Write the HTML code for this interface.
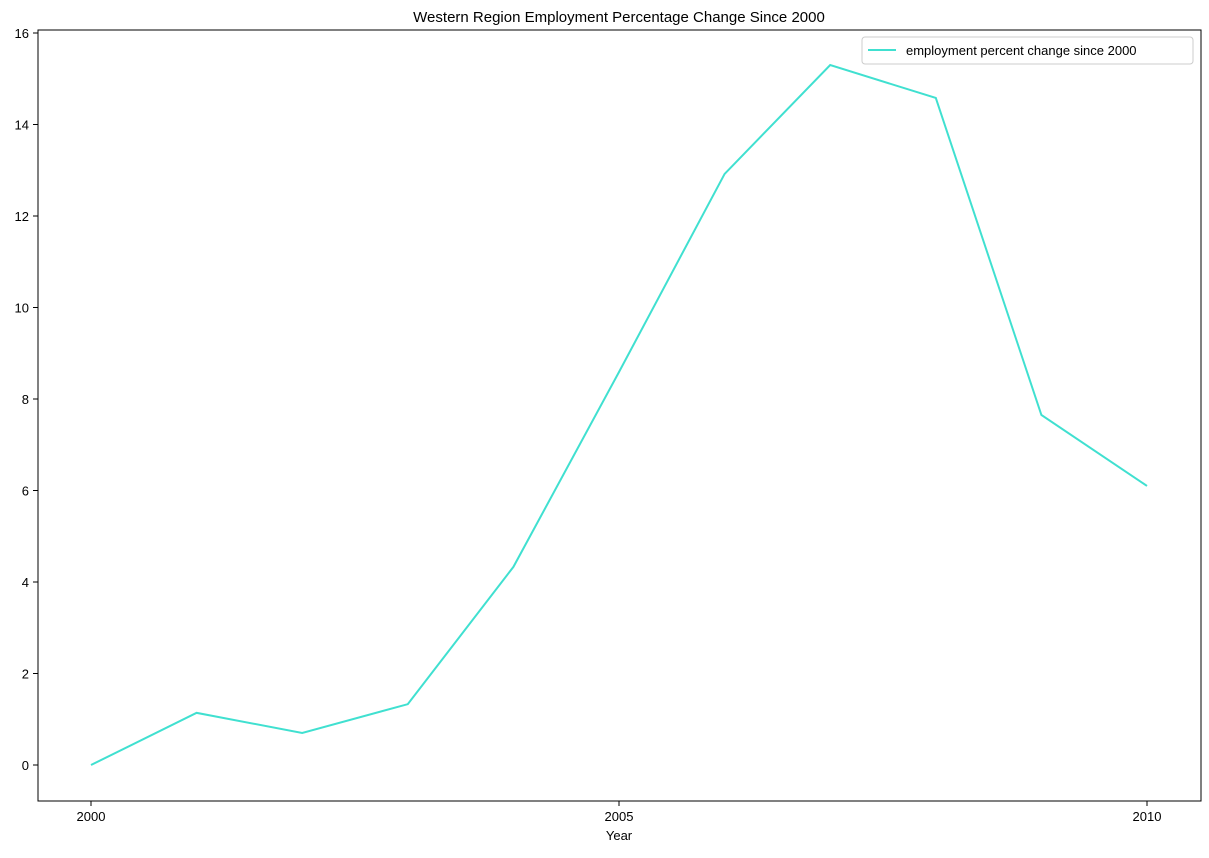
<!DOCTYPE html>
<html><head><meta charset="utf-8"><style>
body{margin:0;background:#fff;font-family:"Liberation Sans","DejaVu Sans",sans-serif}
svg text{font-family:"Liberation Sans","DejaVu Sans",sans-serif;font-size:13px;fill:#000}
</style></head><body>
<svg id="chart" width="1209" height="853">
<text x="619" y="22" text-anchor="middle" font-size="15" style="font-size:15px">Western Region Employment Percentage Change Since 2000</text>
<text x="619" y="840" text-anchor="middle">Year</text>
<g id="ticks"></g>
<polyline id="line" fill="none" stroke="#40e0d0" stroke-width="2"/>
<rect x="38" y="30" width="1163" height="771" fill="none" stroke="#000" stroke-width="1"/>
<g>
<rect x="862" y="37" width="331" height="27" rx="3" fill="#fff" stroke="#ccc"/>
<line x1="868" y1="50" x2="896" y2="50" stroke="#40e0d0" stroke-width="2"/>
<text x="906" y="55">employment percent change since 2000</text>
</g>
</svg>
<script>
const years=[2000,2001,2002,2003,2004,2005,2006,2007,2008,2009,2010];
const values=[0,1.14,0.70,1.33,4.33,8.59,12.92,15.30,14.58,7.65,6.10];
const xTicks=[2000,2005,2010];
const yTicks=[0,2,4,6,8,10,12,14,16];
const xs=y=>91+(y-2000)*105.6;
const ys=v=>765-v*45.75;
const ns="http://www.w3.org/2000/svg";
const line=document.getElementById('line');
line.setAttribute('points',years.map((y,i)=>xs(y)+','+ys(values[i])).join(' '));
const g=document.getElementById('ticks');
xTicks.forEach(t=>{
 const l=document.createElementNS(ns,'line');
 l.setAttribute('x1',xs(t));l.setAttribute('x2',xs(t));l.setAttribute('y1',801);l.setAttribute('y2',806);l.setAttribute('stroke','#000');
 
 
 g.appendChild(l);
 const tx=document.createElementNS(ns,'text');
 tx.setAttribute('x',xs(t));tx.setAttribute('y',821);tx.setAttribute('text-anchor','middle');tx.textContent=t;
 
 
 g.appendChild(tx);
});
yTicks.forEach(t=>{
 const l=document.createElementNS(ns,'line');
 l.setAttribute('x1',33);l.setAttribute('x2',38);l.setAttribute('y1',ys(t));l.setAttribute('y2',ys(t));l.setAttribute('stroke','#000');
 
 
 g.appendChild(l);
 const tx=document.createElementNS(ns,'text');
 tx.setAttribute('x',29);tx.setAttribute('y',ys(t)+5);tx.setAttribute('text-anchor','end');tx.textContent=t;
 
 
 g.appendChild(tx);
});
</script>
</body></html>
